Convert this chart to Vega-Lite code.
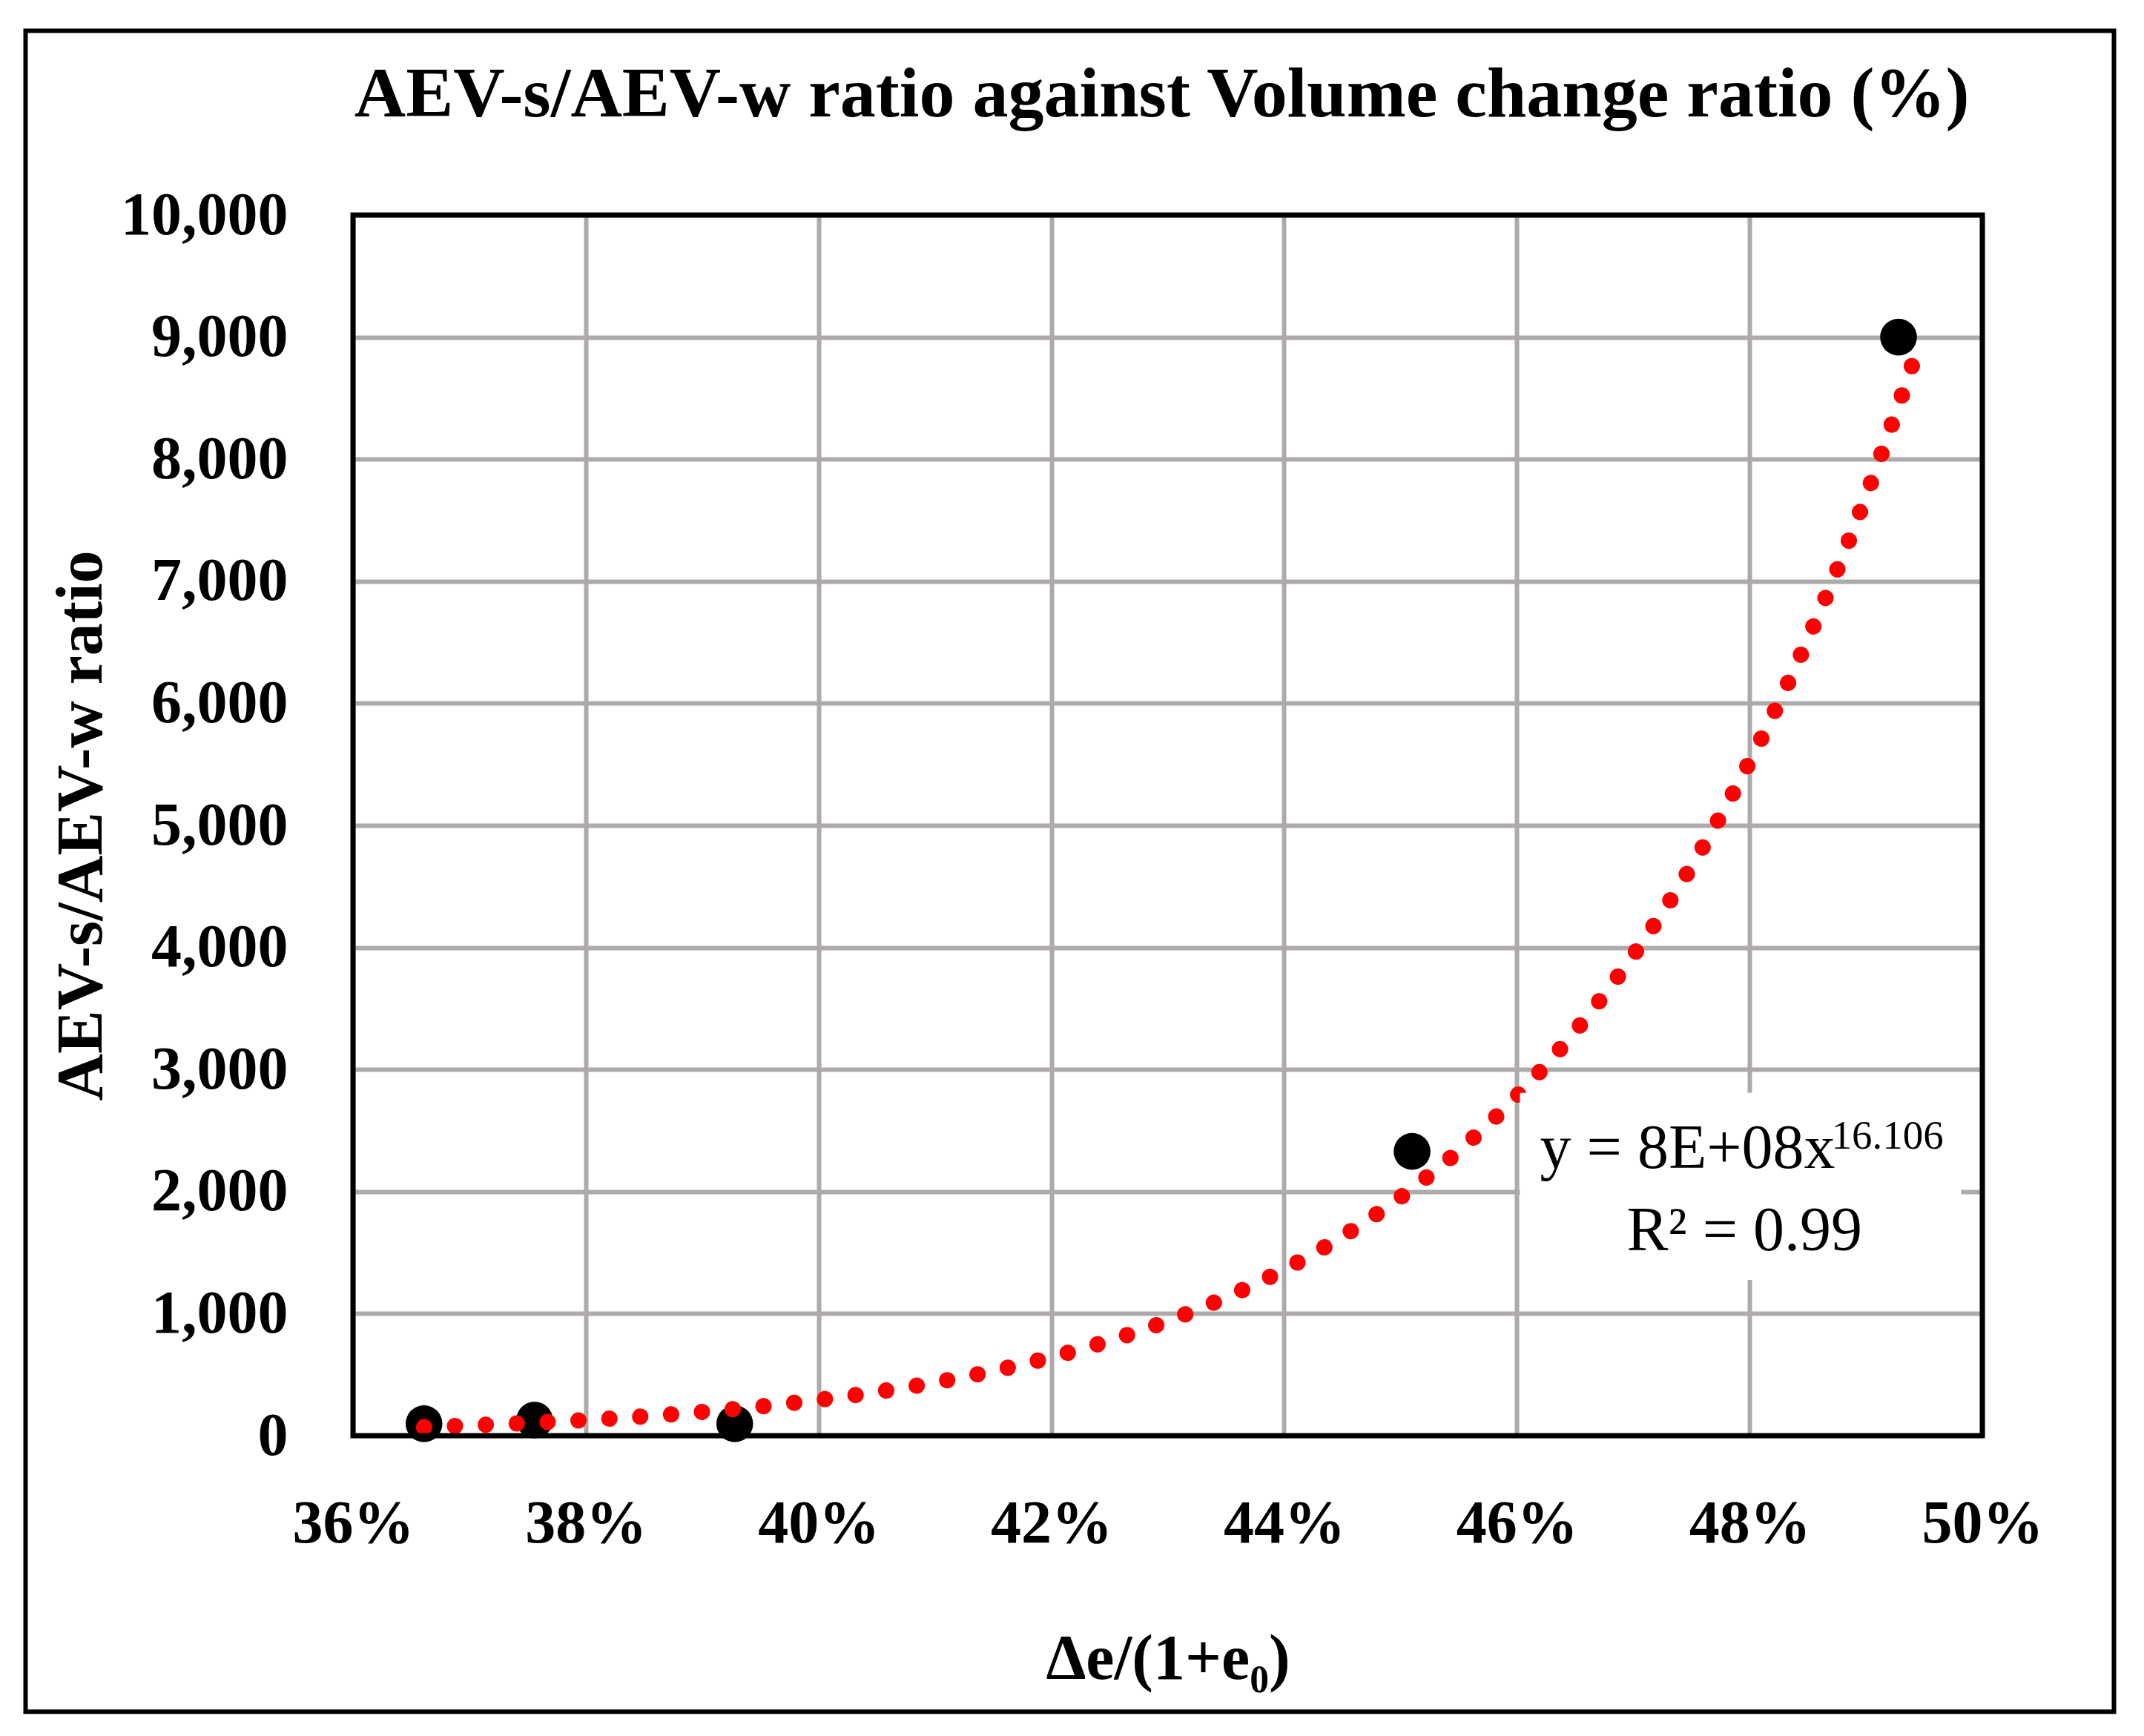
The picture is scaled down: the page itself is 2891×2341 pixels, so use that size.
{
  "$schema": "https://vega.github.io/schema/vega-lite/v6.json",
  "width": 2197,
  "height": 1646,
  "padding": {"left": 31, "top": 38, "right": 31, "bottom": 31},
  "background": "white",
  "config": {
    "view": {"stroke": null},
    "axis": {
      "labelFont": "Liberation Serif",
      "labelFontWeight": "bold",
      "labelColor": "black",
      "labelFontSize": 82,
      "labelLimit": 0,
      "titleFont": "Liberation Serif",
      "titleFontWeight": "bold",
      "titleColor": "black",
      "ticks": false,
      "tickSize": 0,
      "domain": false,
      "grid": true,
      "gridColor": "#aeaaaa",
      "gridWidth": 6,
      "labelFlush": false,
      "labelOverlap": false
    }
  },
  "datasets": {
    "measured": [
      {"x": 0.3661, "y": 98},
      {"x": 0.3756, "y": 128},
      {"x": 0.3928, "y": 98},
      {"x": 0.4510, "y": 2329},
      {"x": 0.4928, "y": 9000}
    ],
    "trend": [
      {"x": 0.3661, "y": 70},
      {"x": 0.370, "y": 84},
      {"x": 0.375, "y": 104},
      {"x": 0.380, "y": 128},
      {"x": 0.385, "y": 158},
      {"x": 0.390, "y": 195},
      {"x": 0.395, "y": 239},
      {"x": 0.400, "y": 293},
      {"x": 0.405, "y": 358},
      {"x": 0.410, "y": 436},
      {"x": 0.415, "y": 530},
      {"x": 0.420, "y": 643},
      {"x": 0.425, "y": 778},
      {"x": 0.430, "y": 939},
      {"x": 0.435, "y": 1132},
      {"x": 0.440, "y": 1360},
      {"x": 0.445, "y": 1632},
      {"x": 0.450, "y": 1953},
      {"x": 0.455, "y": 2333},
      {"x": 0.460, "y": 2782},
      {"x": 0.465, "y": 3312},
      {"x": 0.470, "y": 3934},
      {"x": 0.475, "y": 4664},
      {"x": 0.480, "y": 5521},
      {"x": 0.485, "y": 6524},
      {"x": 0.490, "y": 7696},
      {"x": 0.4947, "y": 8975}
    ],
    "labelbox": [
      {"x": 0.46027, "x2": 0.49818, "y": 2808, "y2": 1276}
    ],
    "heading": [
      {"x": 0.4295, "y": 10810, "text": "AEV-s/AEV-w ratio against Volume change ratio (%)"}
    ],
    "equation": [
      {"x": 0.46199, "y": 2194, "text": "y = 8E+08x"}
    ],
    "exponent": [
      {"x": 0.48703, "y": 2349, "text": "16.106"}
    ],
    "rsquared": [
      {"x": 0.46944, "y": 1519, "text": "R² = 0.99"}
    ],
    "plotframe": [
      {"x": 0.36, "x2": 0.5, "y": 10000, "y2": 0}
    ],
    "frame": [
      {"x": 0.331866, "x2": 0.51131, "y": 11510, "y2": -2261}
    ]
  },
  "encoding": {
    "x": {
      "field": "x",
      "type": "quantitative",
      "scale": {"domain": [0.36, 0.5], "nice": false, "zero": false},
      "axis": {
        "values": [0.36, 0.38, 0.4, 0.42, 0.44, 0.46, 0.48, 0.5],
        "format": ".0%",
        "labelPadding": 78,
        "title": "Δe/(1+e₀)",
        "titleFontSize": 86,
        "titlePadding": 100
      }
    },
    "y": {
      "field": "y",
      "type": "quantitative",
      "scale": {"domain": [0, 10000], "nice": false},
      "axis": {
        "values": [0, 1000, 2000, 3000, 4000, 5000, 6000, 7000, 8000, 9000, 10000],
        "format": ",.0f",
        "labelPadding": 88,
        "title": "AEV-s/AEV-w ratio",
        "titleFontSize": 88,
        "titleAngle": -90,
        "titleAlign": "center",
        "titleBaseline": "alphabetic",
        "titleX": -340,
        "titleY": 823
      }
    }
  },
  "layer": [
    {
      "data": {"name": "measured"},
      "mark": {"type": "circle", "size": 2460, "color": "black", "opacity": 1}
    },
    {
      "data": {"name": "trend"},
      "mark": {
        "type": "line",
        "color": "#ff0000",
        "strokeWidth": 22,
        "strokeCap": "round",
        "strokeDash": [0.1, 41.6],
        "interpolate": "monotone"
      }
    },
    {
      "data": {"name": "labelbox"},
      "mark": {"type": "rect", "fill": "white", "stroke": null},
      "encoding": {"x2": {"field": "x2"}, "y2": {"field": "y2"}}
    },
    {
      "data": {"name": "heading"},
      "mark": {"type": "text", "font": "Liberation Serif", "fontSize": 96, "fontWeight": "bold", "align": "center", "baseline": "alphabetic", "color": "black"},
      "encoding": {"text": {"field": "text"}}
    },
    {
      "data": {"name": "equation"},
      "mark": {"type": "text", "font": "Liberation Serif", "fontSize": 84, "align": "left", "baseline": "alphabetic", "color": "black"},
      "encoding": {"text": {"field": "text"}}
    },
    {
      "data": {"name": "exponent"},
      "mark": {"type": "text", "font": "Liberation Serif", "fontSize": 55, "align": "left", "baseline": "alphabetic", "color": "black"},
      "encoding": {"text": {"field": "text"}}
    },
    {
      "data": {"name": "rsquared"},
      "mark": {"type": "text", "font": "Liberation Serif", "fontSize": 84, "align": "left", "baseline": "alphabetic", "color": "black"},
      "encoding": {"text": {"field": "text"}}
    },
    {
      "data": {"name": "plotframe"},
      "mark": {"type": "rect", "fill": null, "stroke": "black", "strokeWidth": 7},
      "encoding": {"x2": {"field": "x2"}, "y2": {"field": "y2"}}
    },
    {
      "data": {"name": "frame"},
      "mark": {"type": "rect", "fill": null, "stroke": "black", "strokeWidth": 6},
      "encoding": {"x2": {"field": "x2"}, "y2": {"field": "y2"}}
    }
  ]
}
